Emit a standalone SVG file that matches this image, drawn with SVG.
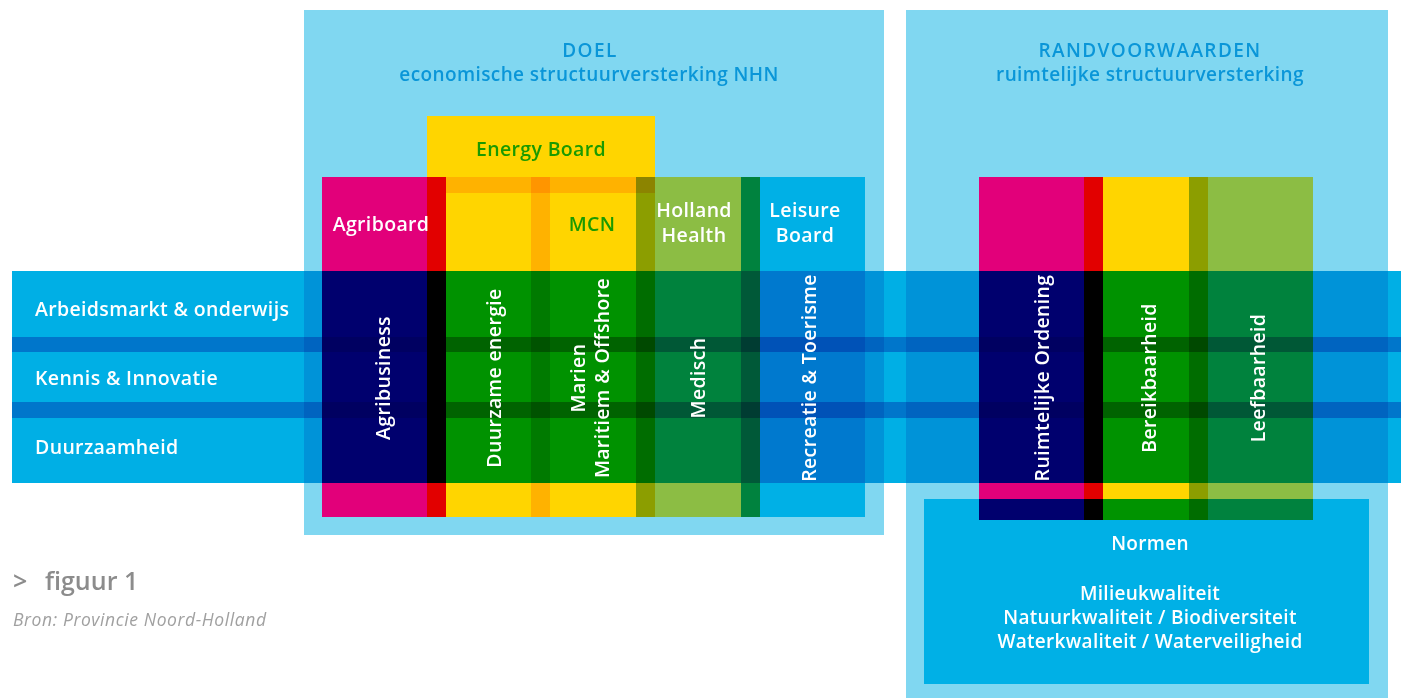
<svg xmlns="http://www.w3.org/2000/svg" width="1401" height="698" viewBox="0 0 1401 698">
<style>
.t{font-family:"Open Sans","Liberation Sans",sans-serif;font-weight:600}
.w{fill:#fff}
.ttl{fill:#0a96d8;font-size:19px;letter-spacing:0.4px}
.cap{letter-spacing:1.4px}
.lbl{font-size:19.5px;letter-spacing:0.35px}
.g{fill:#1a9a00}
.m{mix-blend-mode:multiply}
.iso{isolation:isolate}
</style>
<rect width="1401" height="698" fill="#fff"/>
<g id="panel-doel">
<rect x="304" y="10" width="580" height="525" fill="#80d7f1"/>
<text class="t ttl cap" x="590" y="57" text-anchor="middle">DOEL</text>
<text class="t ttl" x="589" y="81" text-anchor="middle">economische structuurversterking NHN</text>
</g>
<g id="panel-randvoorwaarden">
<rect x="906" y="10" width="482" height="688" fill="#80d7f1"/>
<text class="t ttl cap" x="1150" y="57" text-anchor="middle">RANDVOORWAARDEN</text>
<text class="t ttl" x="1150" y="81" text-anchor="middle">ruimtelijke structuurversterking</text>
</g>
<g id="columns-doel" class="iso">
<rect id="agriboard" x="322" y="177" width="124" height="340" fill="#e2007a"/>
<rect id="energy-board" class="m" x="427" y="116" width="228" height="77" fill="#ffd500"/>
<rect id="col-duurzaam" class="m" x="427" y="177" width="123" height="340" fill="#ffd500"/>
<rect id="mcn" class="m" x="531" y="177" width="124" height="340" fill="#ffd500"/>
<rect id="holland-health" class="m" x="636" y="177" width="124" height="340" fill="#8cbd44"/>
<rect id="leisure-board" class="m" x="741" y="177" width="124" height="340" fill="#00b0e6"/>
</g>
<g id="columns-rand" class="iso">
<rect id="ruimtelijke-ordening" x="979" y="177" width="124" height="343" fill="#e2007a"/>
<rect id="bereikbaarheid" class="m" x="1084" y="177" width="124" height="343" fill="#ffd500"/>
<rect id="leefbaarheid" class="m" x="1189" y="177" width="124" height="343" fill="#8cbd44"/>
<rect id="normen" class="m" x="924" y="499" width="445" height="185" fill="#00b0e6"/>
</g>
<g id="band" class="m">
<rect x="12" y="271" width="1389" height="212" fill="#00afe5"/>
<rect x="12" y="337" width="1389" height="15" fill="#0076cb"/>
<rect x="12" y="402" width="1389" height="16" fill="#0076cb"/>
</g>
<g id="board-labels" class="t lbl">
<text class="g" x="541" y="156" text-anchor="middle">Energy Board</text>
<text class="w" x="381" y="231" text-anchor="middle">Agriboard</text>
<text class="g" x="592" y="231" text-anchor="middle">MCN</text>
<text class="w" x="694" y="217" text-anchor="middle">Holland</text>
<text class="w" x="694" y="242" text-anchor="middle">Health</text>
<text class="w" x="805" y="217" text-anchor="middle">Leisure</text>
<text class="w" x="805" y="242" text-anchor="middle">Board</text>
</g>
<g id="row-labels" class="t lbl w">
<text x="35" y="316">Arbeidsmarkt &amp; onderwijs</text>
<text x="35" y="385">Kennis &amp; Innovatie</text>
<text x="35" y="454">Duurzaamheid</text>
</g>
<g id="sector-labels" class="t lbl w" text-anchor="middle" dominant-baseline="central">
<text transform="translate(382,378) rotate(-90)">Agribusiness</text>
<text transform="translate(493,378) rotate(-90)">Duurzame energie</text>
<text transform="translate(577,378) rotate(-90)">Marien</text>
<text transform="translate(601,378) rotate(-90)">Maritiem &amp; Offshore</text>
<text transform="translate(697,378) rotate(-90)">Medisch</text>
<text transform="translate(808,378) rotate(-90)">Recreatie &amp; Toerisme</text>
<text transform="translate(1041,378) rotate(-90)">Ruimtelijke Ordening</text>
<text transform="translate(1148,378) rotate(-90)">Bereikbaarheid</text>
<text transform="translate(1257,378) rotate(-90)">Leefbaarheid</text>
</g>
<g id="normen-labels" class="t w" text-anchor="middle" font-size="19" letter-spacing="0.3">
<text x="1150" y="550">Normen</text>
<text x="1150" y="600">Milieukwaliteit</text>
<text x="1150" y="624">Natuurkwaliteit / Biodiversiteit</text>
<text x="1150" y="648">Waterkwaliteit / Waterveiligheid</text>
</g>
<g id="caption">
<text class="t" x="13" y="590" font-size="25" font-weight="700" fill="#8c8c8c">&gt;</text>
<text class="t" x="45" y="590" font-size="25" font-weight="700" fill="#8c8c8c">figuur 1</text>
<text x="13" y="626" font-family="Open Sans, Liberation Sans, sans-serif" font-style="italic" font-size="17.5" letter-spacing="0.6" fill="#a0a0a0">Bron: Provincie Noord-Holland</text>
</g>
</svg>
